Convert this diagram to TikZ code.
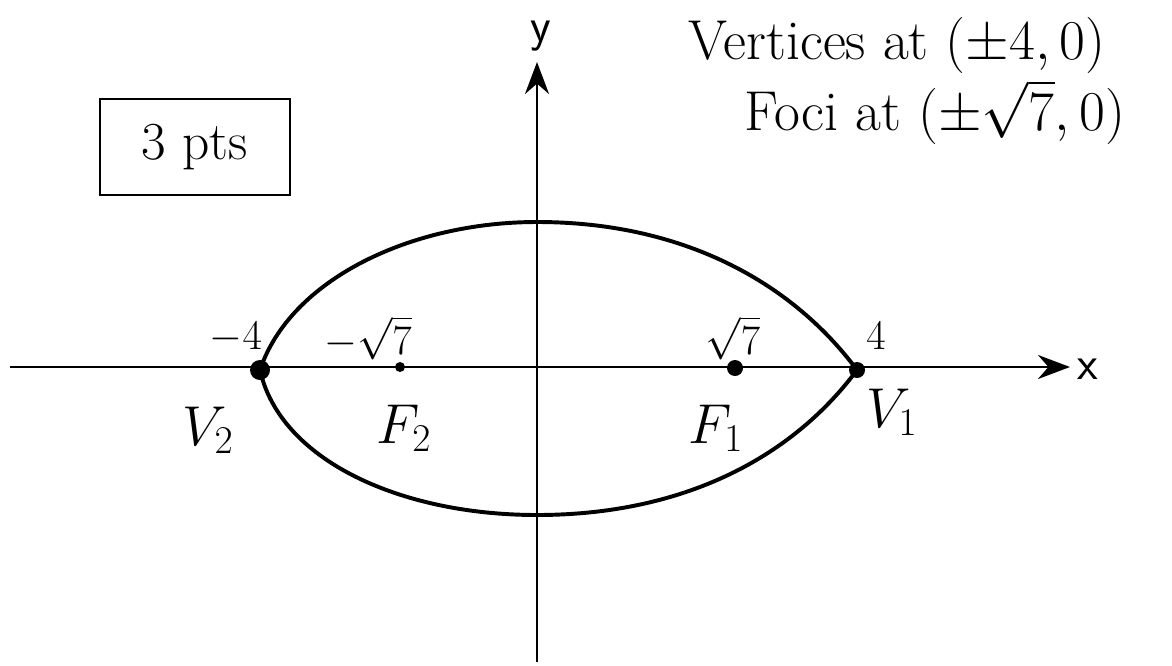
\RequirePackage{fix-cm}
\documentclass[tikz,border=0pt]{standalone}
\usepackage{amsmath}
\usetikzlibrary{arrows.meta, positioning}

\begin{document}
\begin{tikzpicture}[
    x=0.25mm, y=-0.25mm,
    >=Stealth,
    axis/.style={line width=2pt},
    curve/.style={line width=2.8pt},
    dot/.style={circle, fill=black, inner sep=0pt, minimum size=5mm},
    smalldot/.style={circle, fill=black, inner sep=0pt, minimum size=2.5mm},
    ticklabel/.style={font=\fontsize{30}{34}\selectfont},
    ptlabel/.style={font=\fontsize{40}{44}\selectfont},
    axlabel/.style={font=\fontsize{34}{38}\selectfont\sffamily},
    note/.style={font=\fontsize{40}{46}\selectfont, anchor=west},
    scorebox/.style={draw, line width=2pt, minimum width=47.5mm, minimum height=24mm, font=\fontsize{38}{42}\selectfont}
]
\useasboundingbox (0,0) rectangle (1172,665);

% axes
\coordinate (xstart) at (10,367);
\coordinate (xend) at (1070,367);
\coordinate (ystart) at (537,662);
\coordinate (yend) at (537,62);
\draw[axis, -{Stealth[length=8mm,width=6mm]}] (xstart) -- (xend);
\draw[axis, -{Stealth[length=8mm,width=6mm]}] (ystart) -- (yend);
\node[axlabel] (xlabel) at (1088,369) {x};
\node[axlabel] (ylabel) at (541,36) {y};

% vertices and foci
\node[dot] (v2) at (260,370) {};
\node[smalldot] (f2) at (400,367) {};
\node[dot, minimum size=4mm] (f1) at (735,368) {};
\node[dot, minimum size=4mm] (v1) at (857,370) {};

% ellipse
\coordinate (top) at (537,222);
\coordinate (bottom) at (537,515);
\draw[curve] (v2.center) .. controls (290,280) and (410,222) .. (top)
    .. controls (680,222) and (790,280) .. (v1.center)
    .. controls (790,460) and (680,515) .. (bottom)
    .. controls (400,515) and (280,460) .. (v2.center);

% tick labels
\node[ticklabel] (tm4) at (236,338) {$-4$};
\node[ticklabel] (tmr7) at (368,338) {$-\sqrt{7}$};
\node[ticklabel] (tr7) at (733,338) {$\sqrt{7}$};
\node[ticklabel] (t4) at (876,336) {$4$};

% point labels
\node[ptlabel] (v2label) at (208,430) {$V_2$};
\node[ptlabel] (f2label) at (404,428) {$F_2$};
\node[ptlabel] (f1label) at (716,428) {$F_1$};
\node[ptlabel] (v1label) at (892,412) {$V_1$};

% notes
\node[scorebox] (score) at (195,147) {3 pts};
\node[note] (vnote) at (684,45) {Vertices at $(\pm 4,0)$};
\node[note] (fnote) at (740,112) {Foci at $(\pm\sqrt{7},0)$};
\end{tikzpicture}
\end{document}
